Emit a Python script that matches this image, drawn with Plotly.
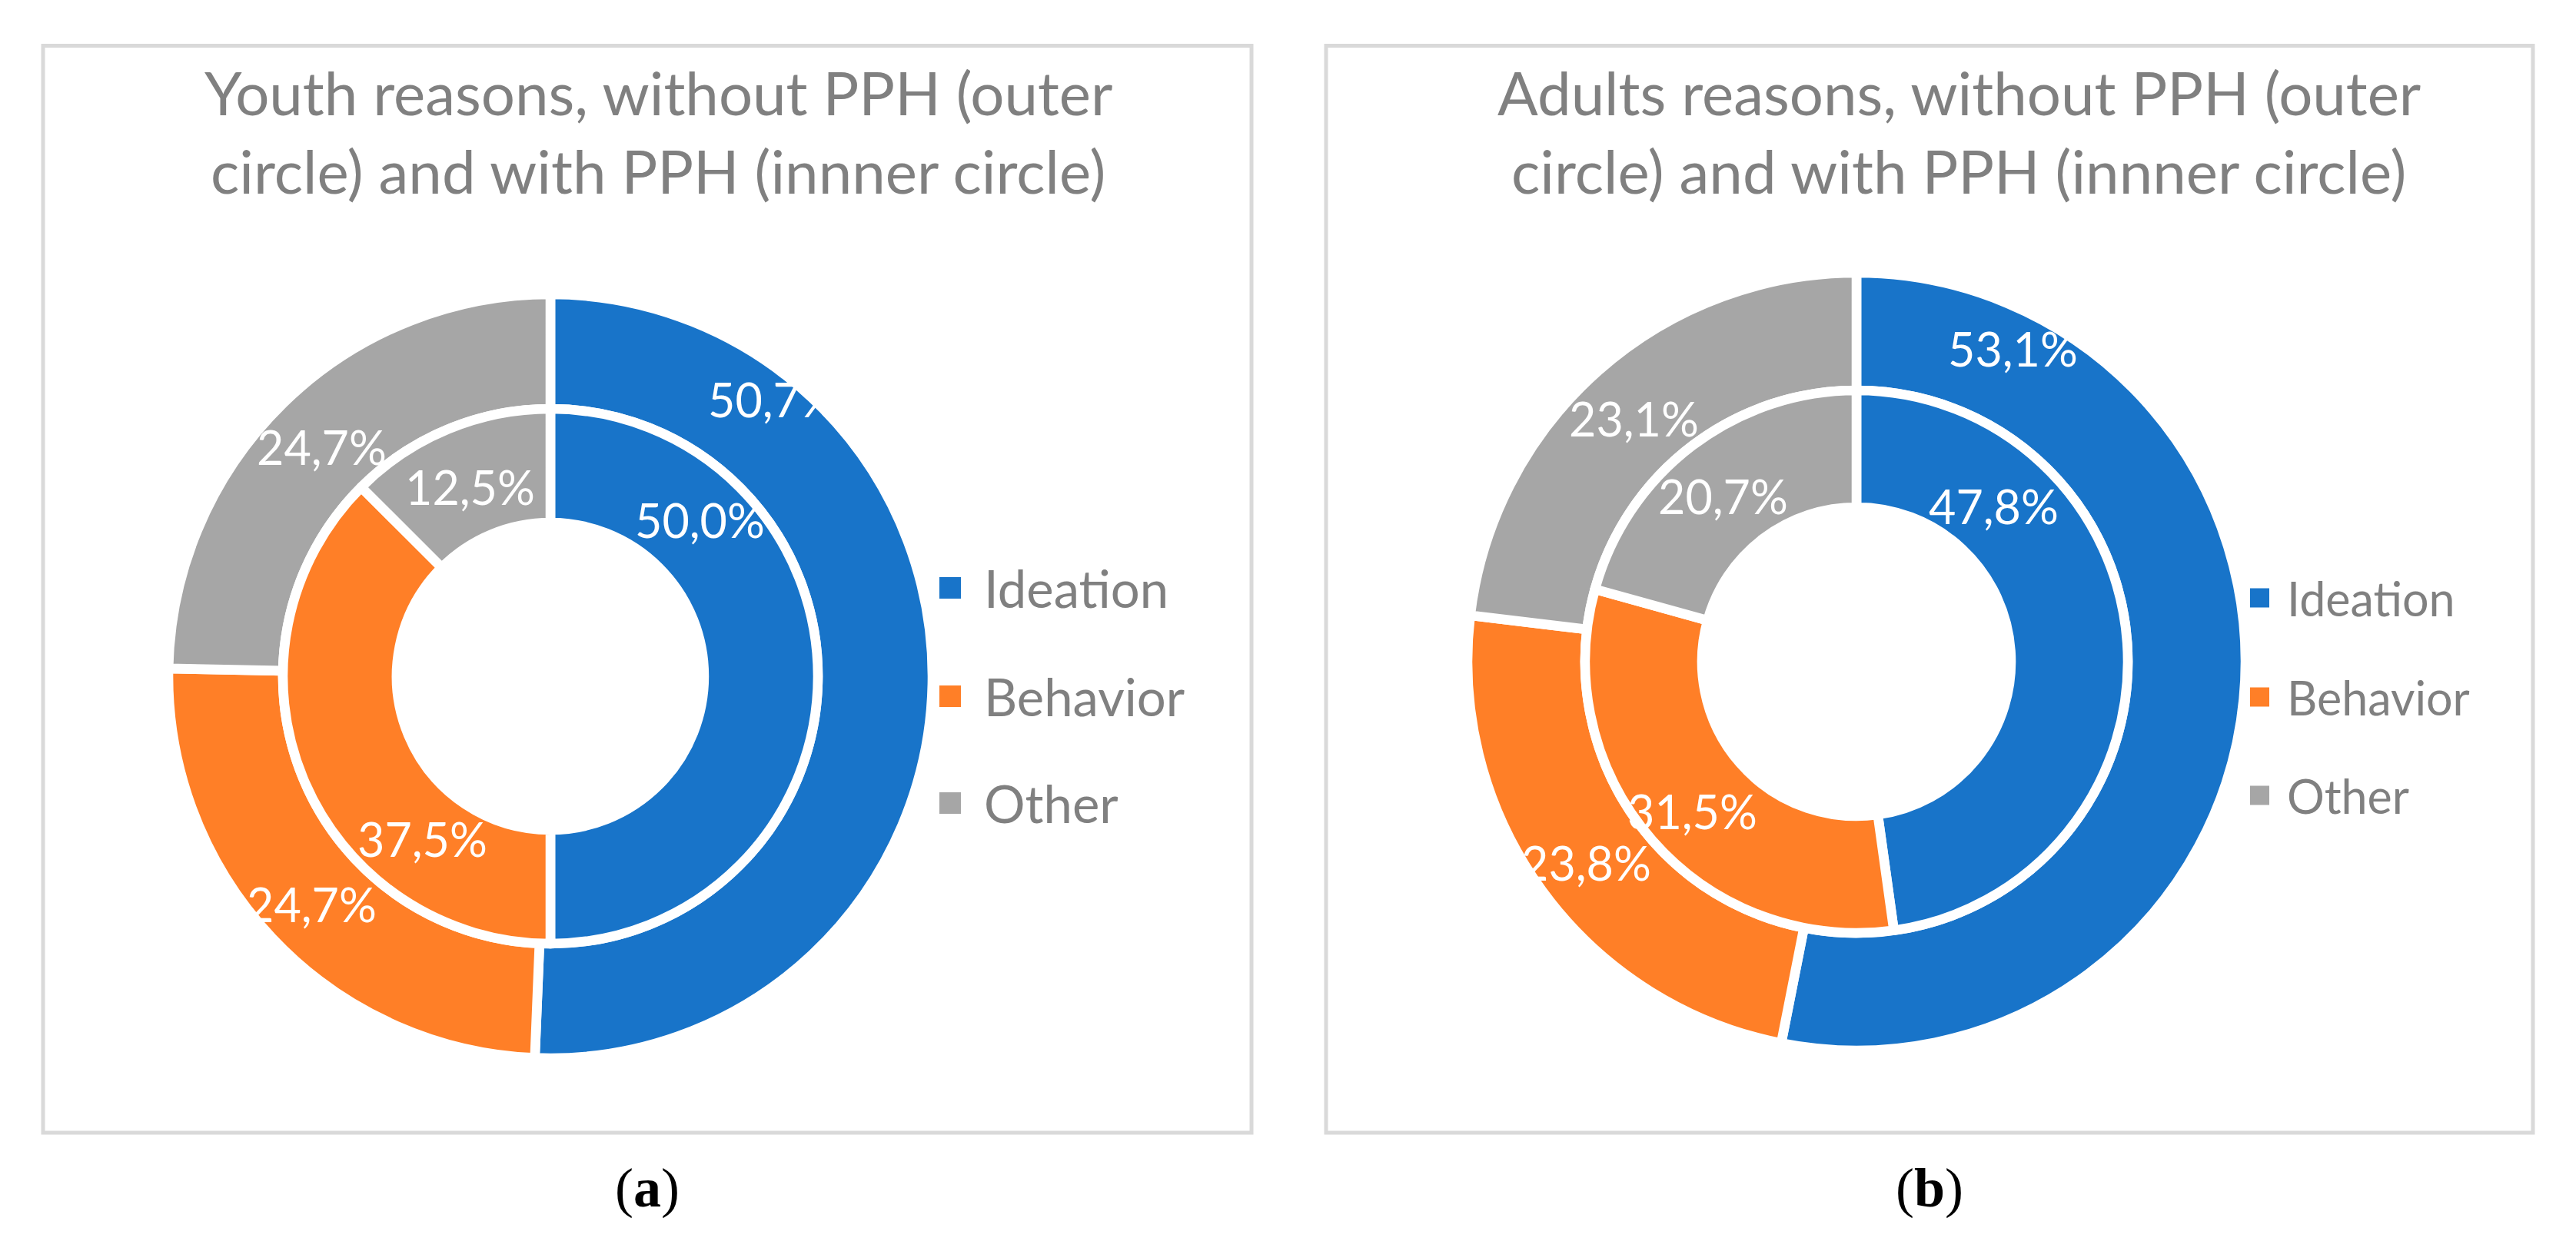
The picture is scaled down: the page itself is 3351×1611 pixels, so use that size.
import plotly.graph_objects as go

# ---------------- data ----------------
CATEGORIES = ["Ideation", "Behavior", "Other"]
YOUTH_WITHOUT_PPH = [50.7, 24.7, 24.7]   # outer circle (a)
YOUTH_WITH_PPH = [50.0, 37.5, 12.5]      # inner circle (a)
ADULTS_WITHOUT_PPH = [53.1, 23.8, 23.1]  # outer circle (b)
ADULTS_WITH_PPH = [47.8, 31.5, 20.7]     # inner circle (b)
TITLE_A = ["Youth reasons, without PPH (outer", "circle) and with PPH (innner circle)"]
TITLE_B = ["Adults reasons, without PPH (outer", "circle) and with PPH (innner circle)"]
CAPTIONS = ["a", "b"]

# ---------------- style / layout ----------------
COLORS = ["#1874C9", "#FF7F27", "#A6A6A6"]
W, H = 3351, 1611
GRAY_TXT = "#808080"
BORDER = "#D9D9D9"
FONT = "Lato"
TITLE_FS = 78
LABEL_FS = 61

# data-label placement (pixel offsets from the donut centre, as in the original layout)
LABEL_OFFSETS_A = dict(outer=[(289, -361), (-311, 296), (-298, -298)],
                       inner=[(194, -204), (-167, 211), (-105, -247)])
LABEL_OFFSETS_B = dict(outer=[(203, -408), (-352, 261), (-290, -317)],
                       inner=[(178, -203), (-214, 194), (-174, -216)])


def fx(x):
    return x / W


def fy(y):
    return 1 - y / H


def fmt(v):
    return f"{v:.1f}%".replace(".", ",")


panels = [
    dict(outer=YOUTH_WITHOUT_PPH, inner=YOUTH_WITH_PPH, title=TITLE_A, cap=CAPTIONS[0],
         box=(48, 51.5, 1620, 1466), cx=708, cy=872, R=497, Rb=348, Rh=200, lab=LABEL_OFFSETS_A,
         title_x=848, leg_sq_x=1214, leg_sq=28, leg_y=[757, 898, 1037], leg_txt_x=1270, leg_fs=67),
    dict(outer=ADULTS_WITHOUT_PPH, inner=ADULTS_WITH_PPH, title=TITLE_B, cap=CAPTIONS[1],
         box=(1717, 51.5, 3287, 1466), cx=2407, cy=853, R=506, Rb=353, Rh=201, lab=LABEL_OFFSETS_B,
         title_x=2540, leg_sq_x=2919, leg_sq=25, leg_y=[770, 899, 1027], leg_txt_x=2965, leg_fs=61),
]

fig = go.Figure()
shapes = []
annotations = []

for p in panels:
    cx, cy = p["cx"], p["cy"]
    rings = (("outer", p["outer"], p["R"], p["Rb"]), ("inner", p["inner"], p["Rb"], p["Rh"]))
    for key, vals, r_out, r_in in rings:
        fig.add_trace(go.Pie(
            labels=CATEGORIES, values=vals, hole=r_in / r_out,
            domain=dict(x=[fx(cx - r_out), fx(cx + r_out)], y=[fy(cy + r_out), fy(cy - r_out)]),
            sort=False, direction="clockwise", rotation=0,
            marker=dict(colors=COLORS, line=dict(color="white", width=12.6)),
            textinfo="none", showlegend=False, hoverinfo="label+value",
        ))
        for v, (dx, dy) in zip(vals, p["lab"][key]):
            annotations.append(dict(text=fmt(v), xref="paper", yref="paper",
                                    x=fx(cx + dx), y=fy(cy + dy), xanchor="center", yanchor="middle",
                                    showarrow=False,
                                    font=dict(family=FONT, size=LABEL_FS, color="white")))
    x0, y0, x1, y1 = p["box"]
    shapes.append(dict(type="rect", xref="paper", yref="paper",
                       x0=fx(x0), x1=fx(x1), y0=fy(y1), y1=fy(y0),
                       line=dict(color=BORDER, width=5), fillcolor="rgba(0,0,0,0)", layer="below"))
    # title (two lines)
    for line, base in zip(p["title"], [143, 245]):
        annotations.append(dict(text=line, xref="paper", yref="paper", x=fx(p["title_x"]),
                                y=fy(base - 0.40 * TITLE_FS), xanchor="center", yanchor="middle",
                                showarrow=False, font=dict(family=FONT, size=TITLE_FS, color=GRAY_TXT)))
    # legend
    s = p["leg_sq"]
    for cat, col, ly in zip(CATEGORIES, COLORS, p["leg_y"]):
        shapes.append(dict(type="rect", xref="paper", yref="paper",
                           x0=fx(p["leg_sq_x"]), x1=fx(p["leg_sq_x"] + s),
                           y0=fy(ly + s / 2), y1=fy(ly - s / 2),
                           line=dict(width=0), fillcolor=col))
        annotations.append(dict(text=cat, xref="paper", yref="paper", x=fx(p["leg_txt_x"]),
                                y=fy(ly), xanchor="left", yanchor="middle", showarrow=False,
                                font=dict(family=FONT, size=p["leg_fs"], color=GRAY_TXT)))
    # caption
    annotations.append(dict(text="(<b>" + p["cap"] + "</b>)", xref="paper", yref="paper",
                            x=fx((x0 + x1) / 2), y=fy(1538), xanchor="center", yanchor="middle",
                            showarrow=False,
                            font=dict(family="Liberation Serif", size=72, color="black")))

fig.update_layout(
    width=W, height=H, margin=dict(l=0, r=0, t=0, b=0),
    paper_bgcolor="white", plot_bgcolor="white",
    separators=",.",
    shapes=shapes, annotations=annotations, showlegend=False,
)

fig.write_html("out.html")
